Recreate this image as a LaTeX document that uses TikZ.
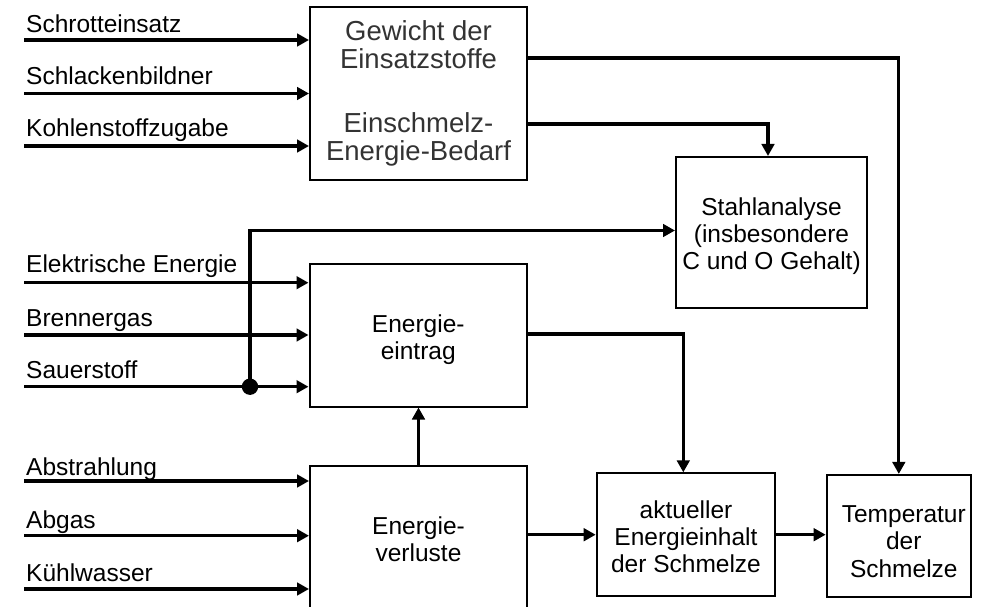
\documentclass[tikz,border=0pt]{standalone}
\usepackage{fontspec}
\setmainfont{Liberation Sans}
\usetikzlibrary{arrows.meta}
\begin{document}
\begin{tikzpicture}[x=1pt,y=-1pt,
  box/.style={draw, line width=2pt, inner sep=0pt},
  txt/.style={align=center, inner sep=0pt, font=\fontsize{24.5}{27.3}\selectfont},
  lab/.style={anchor=base west, inner sep=0pt, font=\fontsize{24.5}{27.3}\selectfont},
  arr/.style={line width=3.2pt, -{Triangle[length=12pt,width=12.5pt]}},
  wire/.style={line width=3.2pt}]
\useasboundingbox (0,0) rectangle (986,607);
\clip (0,0) rectangle (986,607);

% blocks
\node[box, minimum width=217pt, minimum height=173pt, align=center, text=black!80,
      font=\fontsize{27.5}{28.3}\selectfont] (gew) at (418.5,93.5)
  {Gewicht der\\Einsatzstoffe\\[35pt]Einschmelz-\\Energie-Bedarf};
\node[box, minimum width=191pt, minimum height=151pt,
      label={[txt, yshift=-3.5pt]center:{Stahlanalyse\\(insbesondere\\C und O Gehalt)}}]
  (stahl) at (771.5,232.5) {};
\node[box, minimum width=217.5pt, minimum height=143pt,
      label={[txt, yshift=-5pt]center:{Energie-\\eintrag}}]
  (ein) at (418.25,335) {};
\node[box, minimum width=217pt, minimum height=148pt,
      label={[txt]center:{Energie-\\verluste}}]
  (verl) at (418.5,539.5) {};
\node[box, minimum width=178.6pt, minimum height=122.7pt,
      label={[txt, yshift=-2pt]center:{aktueller\\Energieinhalt\\der Schmelze}}]
  (akt) at (686,534.7) {};
\node[box, minimum width=144.3pt, minimum height=121.7pt,
      label={[txt, xshift=5pt, yshift=-5.7pt]center:{Temperatur\\der\\Schmelze}}]
  (temp) at (898.8,535.8) {};

% input quantities
\coordinate (i1) at (24,40);
\coordinate (i2) at (24,93.5);
\coordinate (i3) at (24,146);
\coordinate (i4) at (24,282.7);
\coordinate (i5) at (24,335);
\coordinate (i6) at (24,386.7);
\coordinate (i7) at (24,481);
\coordinate (i8) at (24,535.7);
\coordinate (i9) at (24,589);

\node[lab] (l1) at (26,32.3) {Schrotteinsatz};
\node[lab] (l2) at (26,84.8) {Schlackenbildner};
\node[lab] (l3) at (26,137) {Kohlenstoffzugabe};
\node[lab] (l4) at (26,272.7) {Elektrische Energie};
\node[lab] (l5) at (26,326) {Brennergas};
\node[lab] (l6) at (26,378.3) {Sauerstoff};
\node[lab] (l7) at (26,475.3) {Abstrahlung};
\node[lab] (l8) at (26,528.3) {Abgas};
\node[lab] (l9) at (26,581) {Kühlwasser};

\draw[arr] (i1) -- (i1 -| gew.west);
\draw[arr] (i2) -- (i2 -| gew.west);
\draw[arr] (i3) -- (i3 -| gew.west);
\draw[arr] (i4) -- (i4 -| ein.west);
\draw[arr] (i5) -- (i5 -| ein.west);
\draw[arr] (i6) -- (i6 -| ein.west);
\draw[arr] (i7) -- (i7 -| verl.west);
\draw[arr] (i8) -- (i8 -| verl.west);
\draw[arr] (i9) -- (i9 -| verl.west);

% branch of the oxygen line to the steel analysis
\coordinate (junc) at (250,386.7);
\fill (junc) circle[radius=8.2pt];
\draw[arr] (junc) |- (stahl.west |- 0,230.5);

% internal connections
\draw[arr] (gew.east |- 0,58) -| (temp.north);
\draw[arr] (gew.east |- 0,124) -| ([xshift=-3.5pt]stahl.north);
\draw[arr] (ein.east |- 0,334) -| ([xshift=-2.7pt]akt.north);
\draw[arr] (verl.north) -- (verl.north |- ein.south);
\draw[arr] (verl.east |- akt.west) -- (akt.west);
\draw[arr] (akt.east) -- (akt.east -| temp.west);
\end{tikzpicture}
\end{document}
